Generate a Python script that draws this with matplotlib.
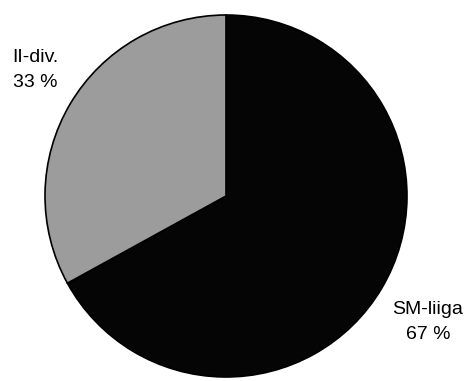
import matplotlib.pyplot as plt

# Jakauma sarjatason mukaan
sarjat = ["SM-liiga", "II-div."]
osuudet = [67, 33]
varit = ["#050505", "#9c9c9c"]

plt.rcParams['font.family'] = ['Liberation Sans', 'DejaVu Sans']

fig = plt.figure(figsize=(4.70, 3.81), dpi=100)
ax = fig.add_axes([0, 0, 1, 1])

ax.pie(osuudet, colors=varit, startangle=90, counterclock=False,
       center=(226, 185), radius=181, frame=True,
       wedgeprops=dict(edgecolor='black', linewidth=1.2))
ax.set_xlim(0, 470)
ax.set_ylim(0, 381)
ax.set_aspect('equal')
ax.axis('off')

# Tekstit sektoreiden viereen
ax.text(428, 59, f"{sarjat[0]}\n{osuudet[0]} %", ha='center', va='center',
        fontsize=14, linespacing=1.55)
ax.text(35, 311, f"{sarjat[1]}\n{osuudet[1]} %", ha='center', va='center',
        fontsize=14, linespacing=1.55)

fig.savefig("out.png", dpi=100)
